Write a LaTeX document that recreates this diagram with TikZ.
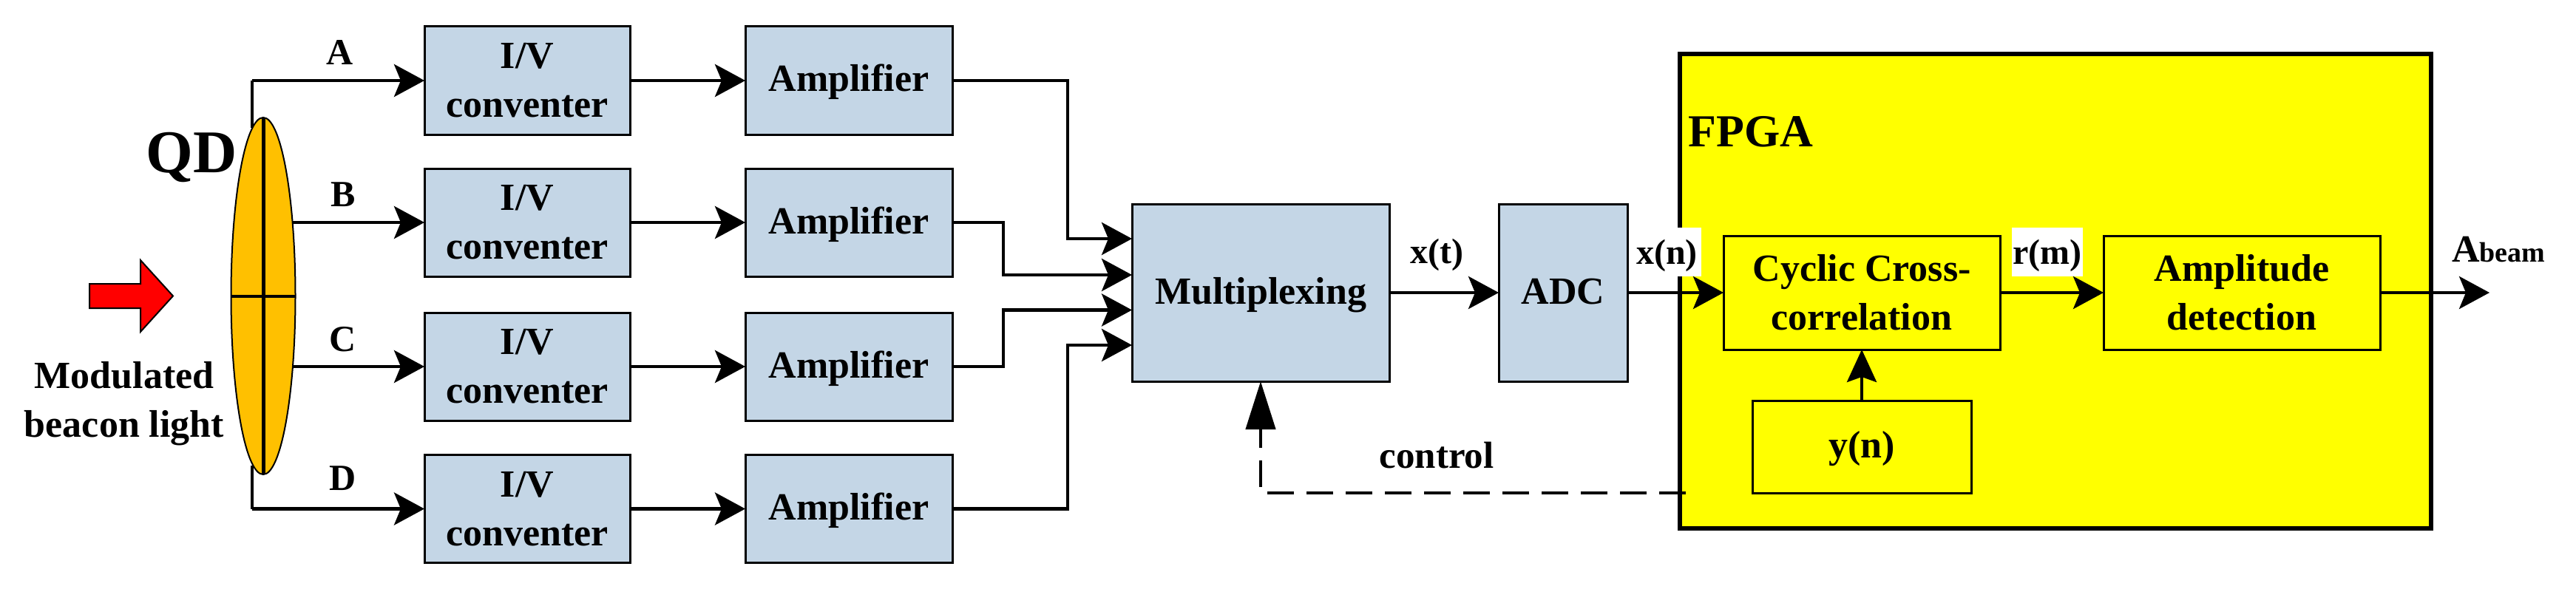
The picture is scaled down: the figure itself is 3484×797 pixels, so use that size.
\documentclass[tikz,border=0pt]{standalone}
\usepackage{fontspec}
\setmainfont{Liberation Serif}
\usetikzlibrary{arrows.meta,shapes.geometric,calc}
\definecolor{boxblue}{HTML}{C4D6E6}
\definecolor{qdorange}{HTML}{FFC000}
\definecolor{fyellow}{RGB}{255,255,0}
\definecolor{fred}{RGB}{255,0,0}
\tikzset{
  x=1pt,y=-1pt,
  txt/.style={font=\fontsize{52}{66}\selectfont\bfseries,inner sep=0pt,outer sep=0pt},
  lab/.style={txt,anchor=base},
  box/.style={txt,draw=black,line width=3pt,align=center},
  single/.style={text height=40pt,text depth=10pt},
  blue/.style={box,fill=boxblue},
  iv/.style={blue,minimum width=278pt,minimum height=146pt},
  amp/.style={blue,single,minimum width=280pt,minimum height=146pt},
  yel/.style={box,fill=fyellow},
  wire/.style={line width=4.5pt,line join=miter,draw=black},
  arr/.style={wire,-{Stealth[length=41pt,width=44pt,inset=9pt]}},
}
\begin{document}
\begin{tikzpicture}
\useasboundingbox (0,0) rectangle (3484,797);
% FPGA
\node[draw=black,fill=fyellow,line width=6pt,minimum width=1016pt,minimum height=642pt,inner sep=0pt,outer sep=0pt] (fpga) at (2780,394) {};
\node[lab,font=\fontsize{62}{62}\selectfont\bfseries] (fpgat) at (2368,198) {FPGA};
% wires hidden by the detector
\coordinate (qa) at (341,173);
\coordinate (qd0) at (341,630);
\coordinate (qb) at (395,301);
\coordinate (qc) at (394,496);
% boxes
\node[iv] (iv1) at (713,109) {I/V\\conventer};
\node[iv] (iv2) at (713,301) {I/V\\conventer};
\node[iv] (iv3) at (713,496) {I/V\\conventer};
\node[iv] (iv4) at (713,688.5) {I/V\\conventer};
\node[amp] (amp1) at (1148,109) {Amplifier};
\node[amp] (amp2) at (1148,301) {Amplifier};
\node[amp] (amp3) at (1148,496) {Amplifier};
\node[amp] (amp4) at (1148,688.5) {Amplifier};
\node[blue,single,minimum width=348pt,minimum height=240pt] (mux) at (1705,396) {Multiplexing};
\node[blue,single,minimum width=174pt,minimum height=240pt] (adc) at (2114,396) {ADC};
\node[yel,minimum width=374pt,minimum height=154pt] (cyc) at (2518,396) {Cyclic Cross-\\correlation};
\node[yel,minimum width=374pt,minimum height=154pt] (det) at (3032,396) {Amplitude\\detection};
\node[yel,single,minimum width=296pt,minimum height=125pt] (yn) at (2518,604.5) {y(n)};
% white labels
\node[txt,font=\fontsize{48}{48}\selectfont\bfseries,fill=white,minimum width=93pt,minimum height=66pt,text height=40pt,text depth=8pt] (xn) at (2254.5,341) {x(n)};
\node[txt,font=\fontsize{48}{48}\selectfont\bfseries,fill=white,minimum width=96pt,minimum height=66pt,text height=40pt,text depth=8pt] (rm) at (2769,341) {r(m)};
% connectors from the detector
\draw[wire] (qa) -- (341,109) coordinate (qa1);
\draw[wire] (qd0) -- (341,688.5) coordinate (qd1);
\draw[arr] (qa1) -- (iv1.west);
\draw[arr] (qb) -- (iv2.west);
\draw[arr] (qc) -- (iv3.west);
\draw[arr] (qd1) -- (iv4.west);
% detector
\node[ellipse,draw=black,fill=qdorange,line width=2pt,minimum width=87pt,minimum height=483pt,inner sep=0pt,outer sep=0pt] (qd) at (356,400.5) {};
\draw[line width=5pt] (qd.north) -- (qd.south);
\draw[line width=4pt] (qd.west) -- (qd.east);
\node[lab,font=\fontsize{82}{82}\selectfont\bfseries] (qdt) at (259,233) {QD};
% red arrow
\draw[draw=black,fill=fred,line width=2pt,line join=miter] (121,384) -- (190,384) -- (190,352) -- (234,400.5) -- (190,449) -- (190,417) -- (121,417) -- cycle;
\node[txt,anchor=center,align=center] (light) at (168,546) {Modulated\\beacon light};
% channel labels
\node[lab,font=\fontsize{50}{50}\selectfont\bfseries] (la) at (460,88) {A};
\node[lab,font=\fontsize{50}{50}\selectfont\bfseries] (lb) at (464,279) {B};
\node[lab,font=\fontsize{50}{50}\selectfont\bfseries] (lc) at (464,475) {C};
\node[lab,font=\fontsize{50}{50}\selectfont\bfseries] (ld) at (464,663) {D};
% iv to amp
\draw[arr] (iv1.east) -- (amp1.west);
\draw[arr] (iv2.east) -- (amp2.west);
\draw[arr] (iv3.east) -- (amp3.west);
\draw[arr] (iv4.east) -- (amp4.west);
% amp to mux
\coordinate (m1) at (1531,323);
\coordinate (m2) at (1531,372);
\coordinate (m3) at (1531,419.5);
\coordinate (m4) at (1531,467);
\coordinate (t1) at (1444,323);
\coordinate (t2) at (1357,372);
\coordinate (t3) at (1357,419.5);
\coordinate (t4) at (1444,467);
\draw[arr] (amp1.east) -| (t1) -- (m1);
\draw[arr] (amp2.east) -| (t2) -- (m2);
\draw[arr] (amp3.east) -| (t3) -- (m3);
\draw[arr] (amp4.east) -| (t4) -- (m4);
% chain
\draw[arr] (mux.east) -- (adc.west);
\draw[arr] (adc.east) -- (cyc.west);
\draw[arr] (cyc.east) -- (det.west);
\coordinate (out) at (3367,396);
\draw[arr] (det.east) -- (out);
\draw[wire,-{Stealth[length=44pt,width=40pt,inset=7pt]}] (yn.north) -- (cyc.south);
\coordinate (c0) at (2280,667);
\draw[wire,dash pattern=on 36pt off 17pt,-{Triangle[length=65pt,width=40pt]}] (c0) -| (mux.south);
% labels
\node[lab,font=\fontsize{48}{48}\selectfont\bfseries] (xt) at (1943,356) {x(t)};
\node[lab,font=\fontsize{51}{51}\selectfont\bfseries] (ctl) at (1943,633) {control};
\node[lab,anchor=base west] (ab) at (3316,354) {A{\fontsize{38}{38}\selectfont beam}};
\end{tikzpicture}
\end{document}
